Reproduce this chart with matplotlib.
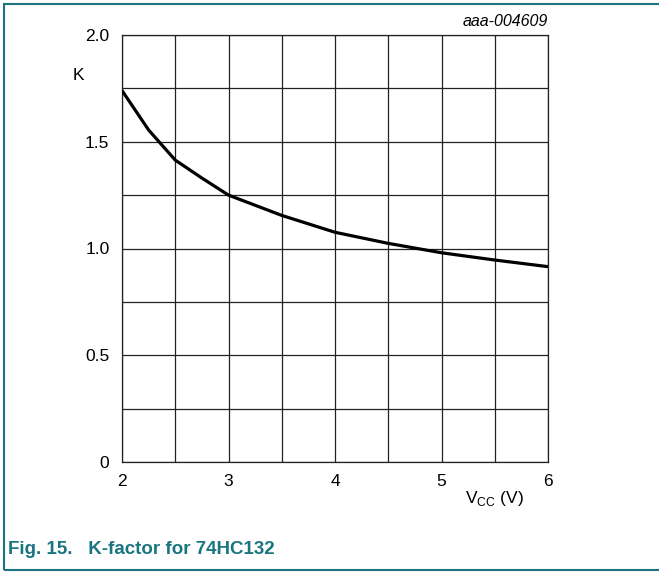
import matplotlib
matplotlib.use('Agg')
import matplotlib.pyplot as plt
from matplotlib.patches import Rectangle

plt.rcParams['font.family'] = ['Liberation Sans', 'DejaVu Sans']
plt.rcParams['mathtext.fontset'] = 'custom'
plt.rcParams['mathtext.rm'] = 'Liberation Sans'

# supply voltage (V) and K-factor
vcc = [2.0, 2.25, 2.5, 2.75, 3.0, 3.5, 4.0, 4.5, 5.0, 5.5, 6.0]
k_factor = [1.74, 1.555, 1.414, 1.33, 1.25, 1.155, 1.076, 1.024, 0.98, 0.946, 0.915]

x_ticklabels = ['2', '', '3', '', '4', '', '5', '', '6']
y_ticklabels = ['0', '', '0.5', '', '1.0', '', '1.5', '', '2.0']

teal = '#1b7580'
W, H = 659, 572

fig = plt.figure(figsize=(W / 100, H / 100), dpi=100)

# outer frame of the figure box
fig.patches.append(Rectangle((4 / W, 1 - 570 / H), 1.0, (570 - 4) / H,
                             transform=fig.transFigure, fill=False,
                             edgecolor=teal, lw=1.5))

ax = fig.add_axes([122 / W, 1 - 462 / H, (548 - 122) / W, (462 - 35) / H])
ax.plot(vcc, k_factor, color='black', lw=2.3, solid_capstyle='butt', zorder=3)

ax.set_xlim(2, 6)
ax.set_ylim(0, 2.0)
ax.set_xticks([2 + 0.5 * i for i in range(9)])
ax.set_yticks([0.25 * i for i in range(9)])
ax.set_xticklabels(x_ticklabels)
ax.set_yticklabels(y_ticklabels)
ax.grid(True, color='#222222', lw=0.9)
ax.tick_params(length=0, labelsize=12.5)
ax.tick_params(axis='x', pad=9)
ax.tick_params(axis='y', pad=9)
for s in ax.spines.values():
    s.set_color('#222222')
    s.set_linewidth(0.9)

fig.text(78 / W, 1 - 75 / H, 'K', fontsize=12.5, ha='center', va='center')
fig.text(494 / W, 1 - 498 / H, r'V$_{\mathrm{CC}}$ (V)', fontsize=12.5,
         ha='center', va='center')
fig.text(548 / W, 1 - 21 / H, 'aaa-004609', fontsize=11.5, style='italic',
         ha='right', va='center')
fig.text(8 / W, 1 - 550 / H, 'Fig. 15.   K-factor for 74HC132', fontsize=13.5,
         fontweight='bold', color=teal, ha='left', va='center')

fig.savefig('out.png', dpi=100)
